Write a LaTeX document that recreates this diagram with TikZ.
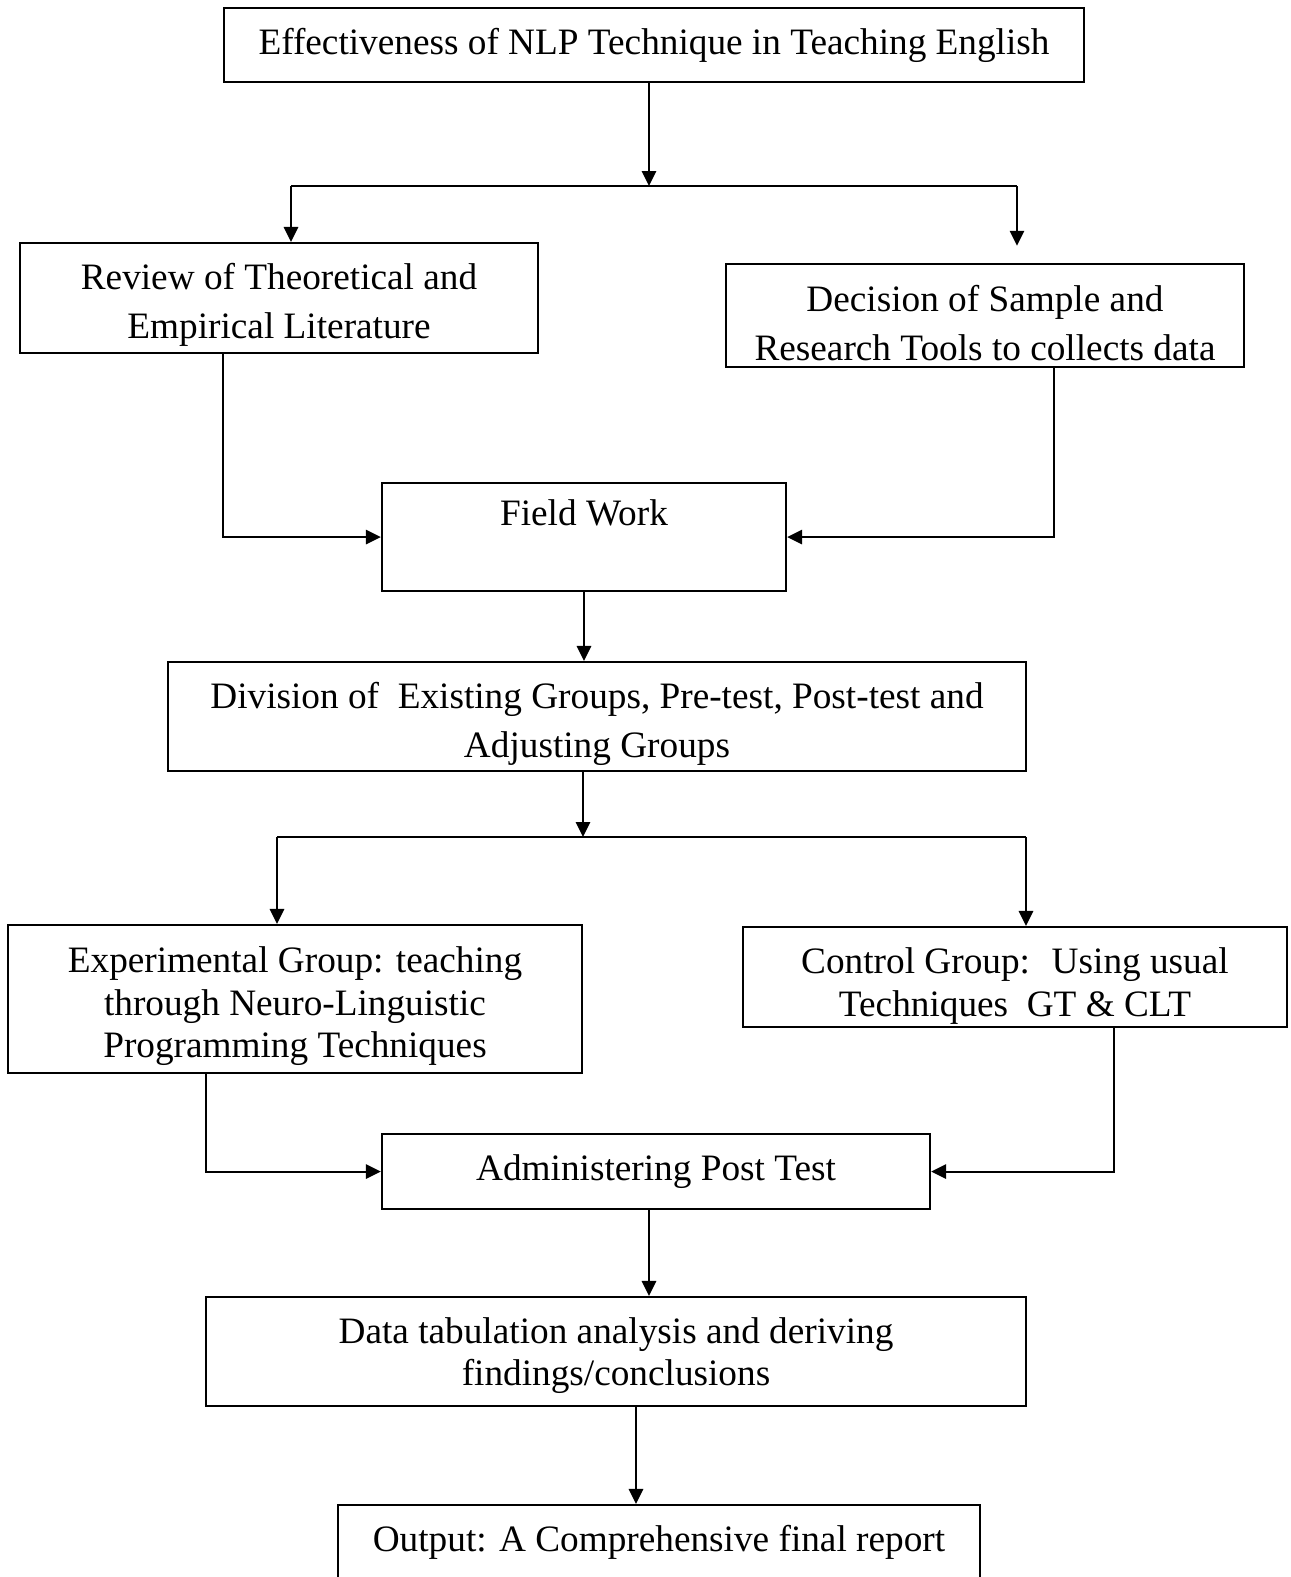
\documentclass[tikz,border=0pt]{standalone}
\usepackage{fontspec}
\setmainfont{Liberation Serif}
\usetikzlibrary{arrows.meta}
\newcommand{\lowStrut}[1]{\rule{0pt}{#1}}

\begin{document}
\begin{tikzpicture}[x=0.322pt,y=-0.322pt]
 \newcommand{\pxLen}{0.322pt}
	\tikzset{box/.style = {draw,line width=0.75pt,align=center,inner sep=0pt,font=\fontsize{12}{15.8}\selectfont}}
	\tikzset{tightBox/.style = {box,font=\fontsize{12}{13.7}\selectfont}}
	\tikzstyle{edge} = [->,>={Triangle[length=4.8pt,width=4.6pt]},line width=0.65pt]
	\tikzstyle{joinLine} = [line width=0.65pt]
	\useasboundingbox (0,0) rectangle (1290,1577);
	%topic
	\node[box,minimum width=860*\pxLen,minimum height=74*\pxLen] (tit) at (654,45) {Effectiveness of NLP Technique in Teaching English};
	%literature and sample
	\node[box,minimum width=518*\pxLen,minimum height=110*\pxLen] (rev) at (279,298) {\lowStrut{13.1pt}Review of Theoretical and\\Empirical Literature};
	\node[box,minimum width=518*\pxLen,minimum height=103*\pxLen] (dec) at (985,315.5) {\lowStrut{13.1pt}Decision of Sample and\\Research Tools to collects data};
	%field work
	\node[box,minimum width=404*\pxLen,minimum height=108*\pxLen] (fld) at (584,537) {Field Work\\\mbox{}};
	\node[box,minimum width=858*\pxLen,minimum height=109*\pxLen] (div) at (597,716.5) {\lowStrut{13.1pt}Division of~ Existing Groups, Pre-test, Post-test and\\Adjusting Groups};
	%groups
	\node[tightBox,minimum width=574*\pxLen,minimum height=148*\pxLen] (exp) at (295,999) {\lowStrut{13.1pt}Experimental Group: teaching\\through Neuro-Linguistic\\Programming Techniques};
	\node[tightBox,minimum width=544*\pxLen,minimum height=100*\pxLen] (ctl) at (1015,977) {\lowStrut{14pt}Control Group:~ Using usual\\Techniques~ GT \& CLT};
	%results
	\node[box,minimum width=548*\pxLen,minimum height=75*\pxLen] (adm) at (656,1171.5) {Administering Post Test};
	\node[tightBox,minimum width=820*\pxLen,minimum height=109*\pxLen] (dat) at (616,1351.5) {\lowStrut{11pt}Data tabulation analysis and deriving\\findings/conclusions};
	\node[box,minimum width=642*\pxLen,minimum height=74*\pxLen] (out) at (659,1542) {Output: A Comprehensive final report};
	%branch points
	\coordinate (s1) at (649,186);
	\coordinate (s1L) at (291,186);
	\coordinate (s1R) at (1017,186);
	\coordinate (revOut) at (223,353);
	\coordinate (decOut) at (1054,367);
	\coordinate (s2) at (583,837);
	\coordinate (s2L) at (277,837);
	\coordinate (s2R) at (1026,837);
	\coordinate (expOut) at (206,1073);
	\coordinate (ctlOut) at (1114,1027);
	\coordinate (admOut) at (649,1209);
	\coordinate (datOut) at (636,1406);
	%connectors
	\draw[edge] (tit.south -| s1) -- (s1);
	\draw[joinLine] (s1L) -- (s1R);
	\draw[edge] (s1L) -- (s1L |- rev.north);
	\draw[edge,shorten >=5.5pt] (s1R) -- (s1R |- dec.north);
	\draw[edge] (revOut) |- (fld.west);
	\draw[edge] (decOut) |- (fld.east);
	\draw[edge] (fld.south) -- (fld.south |- div.north);
	\draw[edge] (div.south -| s2) -- (s2);
	\draw[joinLine] (s2L) -- (s2R);
	\draw[edge] (s2L) -- (s2L |- exp.north);
	\draw[edge] (s2R) -- (s2R |- ctl.north);
	\draw[edge] (expOut) |- (adm.west);
	\draw[edge] (ctlOut) |- (adm.east);
	\draw[edge] (admOut) -- (admOut |- dat.north);
	\draw[edge] (datOut) -- (datOut |- out.north);
\end{tikzpicture}
\end{document}
